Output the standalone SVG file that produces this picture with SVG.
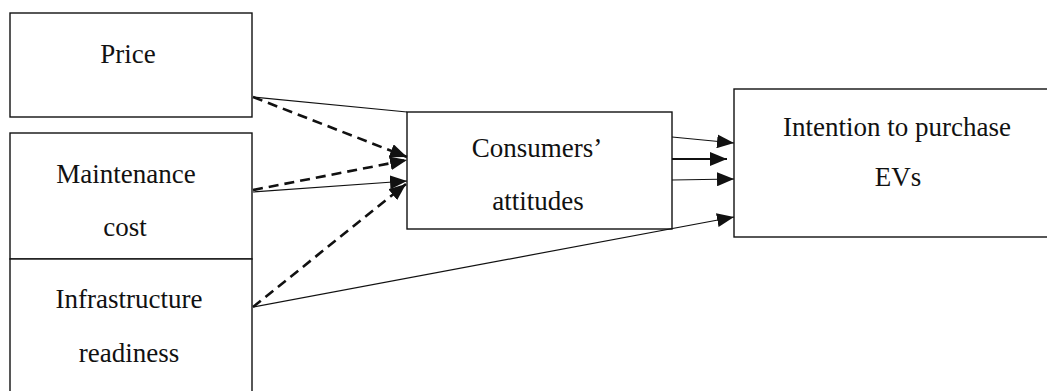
<svg xmlns="http://www.w3.org/2000/svg" width="1047" height="391" viewBox="0 0 1047 391">
<style>
.box{fill:#fff;stroke:#111;stroke-width:1.4}
.t{font-family:"Liberation Serif","Times New Roman",serif;font-size:27px;fill:#111;text-anchor:middle}
.thin{stroke:#111;stroke-width:1.2;fill:none}
.mid{stroke:#111;stroke-width:2.2;fill:none}
.dash{stroke:#111;stroke-width:2.6;fill:none;stroke-dasharray:10 6}
</style>
<defs>
<marker id="ah" markerUnits="userSpaceOnUse" markerWidth="18" markerHeight="14" refX="17" refY="7" orient="auto">
<path d="M0,0 L17,7 L0,14 Z" fill="#111"/>
</marker>
</defs>
<rect width="1047" height="391" fill="#fff"/>
<g id="price"><rect class="box" x="10" y="13" width="242" height="104"/><text class="t" x="128" y="63">Price</text></g>
<g id="maintenance"><rect class="box" x="10" y="133" width="242" height="126"/><text class="t" x="126" y="183">Maintenance</text><text class="t" x="125" y="236">cost</text></g>
<g id="infrastructure"><rect class="box" x="10" y="259" width="242" height="140"/><text class="t" x="129" y="308">Infrastructure</text><text class="t" x="129" y="362">readiness</text></g>
<g id="attitudes"><rect class="box" x="407" y="112" width="265" height="117"/><text class="t" x="537" y="157">Consumers’</text><text class="t" x="538" y="210">attitudes</text></g>
<g id="intention"><rect class="box" x="734" y="89" width="320" height="148"/><text class="t" x="897" y="136">Intention to purchase</text><text class="t" x="898" y="186">EVs</text></g>
<g id="connectors">
<line class="thin" x1="253" y1="97" x2="407" y2="112"/>
<line class="dash" x1="253" y1="97" x2="407" y2="157" marker-end="url(#ah)"/>
<line class="dash" x1="253" y1="190" x2="407" y2="160" marker-end="url(#ah)"/>
<line class="thin" x1="253" y1="192" x2="407" y2="181" marker-end="url(#ah)"/>
<line class="dash" x1="253" y1="307" x2="406" y2="184" marker-end="url(#ah)"/>
<line class="thin" x1="253" y1="307" x2="734" y2="217" marker-end="url(#ah)"/>
<line class="thin" x1="672" y1="137" x2="734" y2="143" marker-end="url(#ah)"/>
<line class="mid" x1="672" y1="159" x2="727" y2="159" marker-end="url(#ah)"/>
<line class="thin" x1="672" y1="180" x2="734" y2="179" marker-end="url(#ah)"/>
</g>
</svg>
